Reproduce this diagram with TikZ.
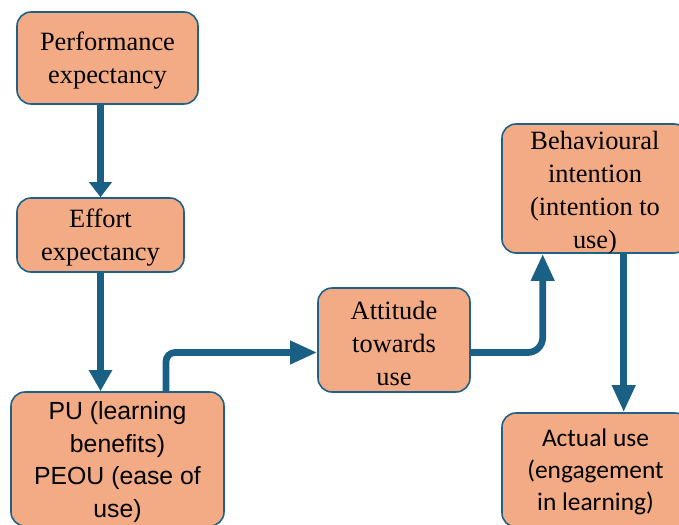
\documentclass[tikz,border=0pt]{standalone}
\usepackage{fontspec}
\setmainfont{Liberation Serif}
\newfontfamily\arialf{Liberation Sans}
\newfontfamily\calf{Carlito}
\usetikzlibrary{arrows.meta}
\definecolor{boxfill}{HTML}{F2AB85}
\definecolor{boxline}{HTML}{1E6288}
\definecolor{arrowc}{HTML}{1A6085}
\tikzset{
  stagebox/.style={draw=boxline, line width=1.6pt, fill=boxfill,
    rounded corners=14pt, inner sep=0pt},
  stagetext/.style={align=center, inner sep=0pt, yshift=-3pt,
    font=\fontsize{26.4}{33}\selectfont},
  sanstext/.style={stagetext, font=\arialf\fontsize{24.8}{32.5}\selectfont},
  humtext/.style={stagetext, font=\calf\fontsize{25.4}{32}\selectfont},
  flow/.style={draw=arrowc, line width=6.7pt,
    -{Triangle[length=27pt,width=22pt]}},
}
\begin{document}
\begin{tikzpicture}[x=1pt,y=-1pt]
\useasboundingbox (0,0) rectangle (679,524);
\clip (0,0) rectangle (679,524);

% stages
\node[stagebox, minimum width=181pt, minimum height=92pt,
  label={[stagetext]center:{Performance\\expectancy}}] (perf) at (107.5,58) {};
\node[stagebox, minimum width=167pt, minimum height=74pt,
  label={[stagetext]center:{Effort\\expectancy}}] (effort) at (100.5,235) {};
\node[stagebox, minimum width=213pt, minimum height=134pt,
  label={[sanstext]center:{PU (learning\\benefits)\\PEOU (ease of\\use)}}] (pu) at (117.5,459) {};
\node[stagebox, minimum width=152pt, minimum height=104pt,
  label={[stagetext]center:{Attitude\\towards\\use}}] (att) at (394,340) {};
\node[stagebox, minimum width=186pt, minimum height=129pt,
  label={[stagetext, yshift=-1pt]center:{Behavioural\\intention\\(intention to\\use)}}] (beh) at (595,188.5) {};
\node[stagebox, minimum width=187pt, minimum height=114pt,
  label={[humtext, yshift=1pt]center:{Actual use\\(engagement\\in learning)}}] (act) at (595.5,470) {};

% bend points of the elbow connectors
\coordinate (c1) at (166,352.5);
\coordinate (c2) at (542.7,352.5);
\coordinate (c3) at (623.7,300);

% connectors
\draw[flow, -{Triangle[length=15pt,width=22pt]}] (perf.south -| effort.north) -- (effort.north);
\draw[flow, -{Triangle[length=21pt,width=22pt]}] (effort.south) -- (effort.south |- pu.north);
\draw[flow, rounded corners=9pt] (pu.north -| c1) |- (att.west |- c1);
\draw[flow, rounded corners=15pt] (att.east |- c2) -| (beh.south -| c2);
\draw[flow] (beh.south -| c3) -- (act.north -| c3);
\end{tikzpicture}
\end{document}
